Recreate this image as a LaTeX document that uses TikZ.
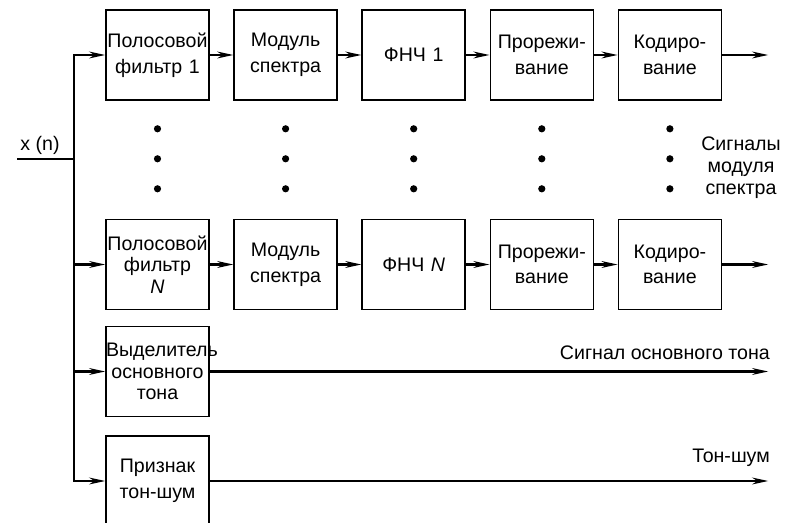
\documentclass[tikz,border=0pt]{standalone}
\usepackage{fontspec}
\setmainfont{Liberation Sans}
\usepackage{tikz}
\usetikzlibrary{arrows.meta, positioning}
\hyphenpenalty=10000
\tikzset{
  block/.style={rectangle, draw=black, line width=0.8pt,
    minimum width=51.5pt, minimum height=45pt, text width=51.5pt,
    inner sep=0pt, align=center, font=\fontsize{9.8}{12.8}\selectfont},
  tallblock/.style={block, font=\fontsize{9.8}{10.8}\selectfont},
  arrow/.style={-{Stealth[length=8pt,width=3.4pt]}, line width=1.1pt},
  line/.style={line width=1.1pt},
  sigtext/.style={inner sep=0pt, align=center, font=\fontsize{9.8}{11}\selectfont}
}
\begin{document}
\begin{tikzpicture}[x=0.5pt, y=-0.5pt, node distance=11.75pt]
  \useasboundingbox (0,0) rectangle (794,523);
  \clip (0,0) rectangle (794,523);

  \node [block] (f1) at (157.5,55) {Полосовой\\фильтр 1};
  \node [block, right=of f1] (m1) {Модуль\\спектра};
  \node [block, right=of m1] (l1) {ФНЧ 1};
  \node [block, right=of l1] (p1) {Прорежи-\\вание};
  \node [block, right=of p1] (k1) {Кодиро-\\вание};

  \node [tallblock] (fn) at (157.5,264.5) {Полосовой\\фильтр\\\textit{N}};
  \node [block, right=of fn] (mn) {Модуль\\спектра};
  \node [block, right=of mn] (ln) {ФНЧ \textit{N}};
  \node [block, right=of ln] (pn) {Прорежи-\\вание};
  \node [block, right=of pn] (kn) {Кодиро-\\вание};

  \node [tallblock] (vt) at (157.5,371.5) {Выделитель\\основного\\тона};
  \node [block] (pt) at (157.5,481) {Признак\\тон-шум};

  \foreach \n in {f1,m1,l1,p1,k1}
    \foreach \d in {28,58,88}
      \fill (\n.south) ++(0,\d) circle (1.8pt);

  \coordinate (xin) at (17,159);
  \coordinate (bus) at (74,159);
  \node [sigtext, above right=2pt and 1.5pt of xin] (xn) {x (n)};
  \draw [line] (xin) -- (bus);
  \foreach \n in {f1,fn,vt,pt}
    \draw [arrow] (bus) |- (\n);

  \draw [arrow] (f1) -- (m1);
  \draw [arrow] (m1) -- (l1);
  \draw [arrow] (l1) -- (p1);
  \draw [arrow] (p1) -- (k1);
  \draw [arrow] (fn) -- (mn);
  \draw [arrow] (mn) -- (ln);
  \draw [arrow] (ln) -- (pn);
  \draw [arrow] (pn) -- (kn);

  \coordinate [right=23pt of k1] (o1);
  \coordinate [right=23pt of kn] (o2);
  \coordinate (o3) at (vt -| o1);
  \coordinate (o4) at (pt -| o1);
  \draw [arrow] (k1) -- (o1);
  \draw [arrow] (kn) -- (o2);
  \draw [arrow] (vt) -- (o3);
  \draw [arrow] (pt) -- (o4);

  \node [sigtext] (sm) at (741,168) {Сигналы\\модуля\\спектра};
  \node [sigtext, above left=5.5pt and -1pt of o3] (st) {Сигнал основного тона};
  \node [sigtext, above left=7pt and -1pt of o4] (ts) {Тон-шум};
\end{tikzpicture}
\end{document}
